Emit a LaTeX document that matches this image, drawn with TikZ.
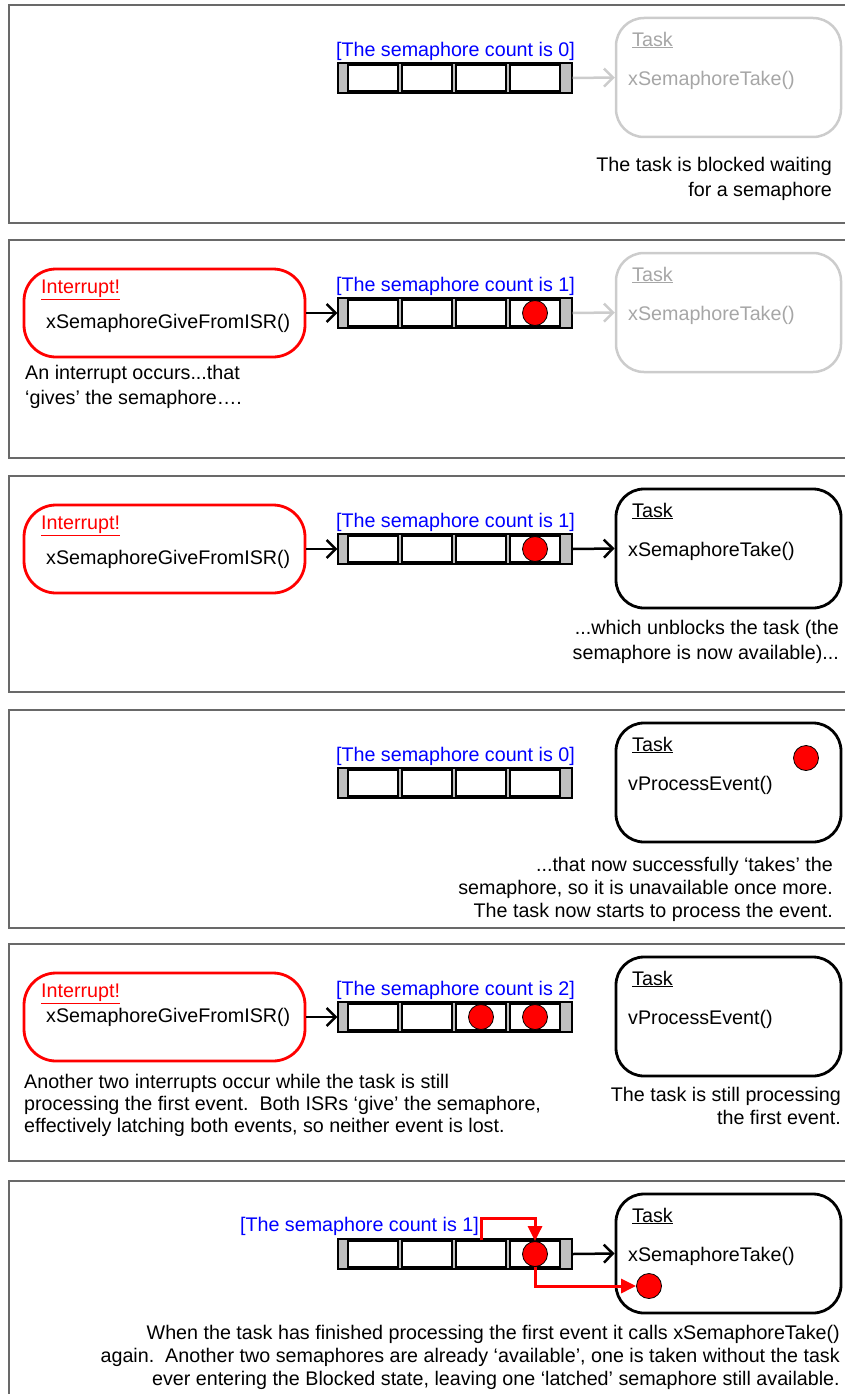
\documentclass[tikz,border=0pt]{standalone}
\usepackage{fontspec}
\setmainfont{Liberation Sans}
\usetikzlibrary{arrows.meta}
\definecolor{framegray}{RGB}{105,105,105}
\definecolor{pureblue}{RGB}{0,0,255}
\definecolor{purered}{RGB}{255,0,0}
\begin{document}
\begin{tikzpicture}[
	x=1pt, y=-1pt,
	panel line/.style={draw=framegray, line width=1.6pt},
	queue bar/.style={draw=black, fill=gray!50, line width=1.2pt, minimum width=234pt, minimum height=30pt, inner sep=0pt},
	queue cell/.style={draw=black, fill=white, line width=1.1pt, minimum width=50pt, minimum height=26pt, inner sep=0pt},
	token/.style={circle, draw=black, fill=purered, line width=0.8pt, minimum size=25pt, inner sep=0pt},
	task box/.style={draw=black, rounded corners=28pt, line width=2.8pt, minimum width=225pt, minimum height=119pt},
	blocked/.style={draw=gray!40, line width=2.5pt},
	isr box/.style={draw=purered, rounded corners=32pt, line width=2.8pt, minimum width=281pt, minimum height=88pt},
	plain text/.style={inner sep=0pt, font=\fontsize{19.7}{25}\selectfont},
	count label/.style={plain text, text=pureblue, anchor=east},
	isr title/.style={plain text, text=purered, anchor=west},
	call text/.style={plain text, anchor=west},
	note/.style={plain text, align=right, anchor=north east},
	tight note/.style={note, font=\fontsize{19.7}{23}\selectfont},
	flow/.style={-{Straight Barb[length=9pt,width=18pt]}, line width=2.5pt},
	faded flow/.style={flow, draw=gray!40},
	take/.style={-{Triangle[length=15pt,width=14pt]}, draw=purered, line width=3pt}
	]
	\newcommand{\drawqueue}[1]{
		\node[queue bar] (#1) at (455,73) {};
		\foreach \i in {1,...,4}
			\node[queue cell] (#1-\i) at ({319+54*\i},73) {};
	}
	\newcommand{\drawtask}[4]{
		\node[task box, #2] (#1) at (728.5,72.5) {};
		\node[call text, text=#3] (#1-title) at (632,35) {\underline{Task}};
		\node[call text, text=#3] (#1-call) at (628,75) {#4};
	}
	\newcommand{\drawisr}[2]{
		\node[isr box] (#1) at (164.5,73) {};
		\node[isr title] (#1-title) at (41,50) {\underline{Interrupt!}};
		\node[call text] (#1-call) at (46,#2) {xSemaphoreGiveFromISR()};
	}
	\useasboundingbox (0,0) rectangle (845,1394);
	\clip (0,0) rectangle (845,1394);
	% blocked
	\begin{scope}[yshift=-5pt]
		\draw[panel line] (900,0) -- (9,0) -- (9,218) -- (900,218);
		\node[count label] (n1) at (575,46) {[The semaphore count is 0]};
		\drawqueue{q1}
		\drawtask{t1}{blocked}{gray!70}{xSemaphoreTake()}
		\draw[faded flow] (q1.east) -- (t1.west);
		\node[note] (d1) at (832,152) {The task is blocked waiting\\for a semaphore};
	\end{scope}
	% interrupt gives
	\begin{scope}[yshift=-240pt]
		\draw[panel line] (900,0) -- (9,0) -- (9,218) -- (900,218);
		\drawisr{i2}{83}
		\node[count label] (n2) at (575,46) {[The semaphore count is 1]};
		\drawqueue{q2}
		\node[token] (k2) at (q2-4) {};
		\drawtask{t2}{blocked}{gray!70}{xSemaphoreTake()}
		\draw[flow] (i2.east) -- (q2.west);
		\draw[faded flow] (q2.east) -- (t2.west);
		\node[note, anchor=north west, align=left] (d2) at (25,125) {An interrupt occurs...that\\‘gives’ the semaphore….};
	\end{scope}
	% task unblocked
	\begin{scope}[yshift=-476pt]
		\draw[panel line] (900,0) -- (9,0) -- (9,216) -- (900,216);
		\drawisr{i3}{83}
		\node[count label] (n3) at (575,46) {[The semaphore count is 1]};
		\drawqueue{q3}
		\node[token] (k3) at (q3-4) {};
		\drawtask{t3}{}{black}{xSemaphoreTake()}
		\draw[flow] (i3.east) -- (q3.west);
		\draw[flow] (q3.east) -- (t3.west);
		\node[note] (d3) at (839,144) {...which unblocks the task (the\\semaphore is now available)...};
	\end{scope}
	% task takes
	\begin{scope}[yshift=-710pt]
		\draw[panel line] (900,0) -- (9,0) -- (9,218) -- (900,218);
		\node[count label] (n4) at (575,46) {[The semaphore count is 0]};
		\drawqueue{q4}
		\drawtask{t4}{}{black}{vProcessEvent()}
		\node[token] (k4) at (806,48) {};
		\node[tight note] (d4) at (833,147) {...that now successfully ‘takes’ the\\semaphore, so it is unavailable once more.\\The task now starts to process the event.};
	\end{scope}
	% two more interrupts
	\begin{scope}[yshift=-944pt]
		\draw[panel line] (900,0) -- (9,0) -- (9,217) -- (900,217);
		\drawisr{i5}{73}
		\node[count label] (n5) at (575,46) {[The semaphore count is 2]};
		\drawqueue{q5}
		\node[token] (k5a) at (q5-3) {};
		\node[token] (k5b) at (q5-4) {};
		\drawtask{t5}{}{black}{vProcessEvent()}
		\draw[flow] (i5.east) -- (q5.west);
		\node[tight note, anchor=north west, align=left, font=\fontsize{19.7}{22}\selectfont] (d5) at (24,130) {Another two interrupts occur while the task is still\\processing the first event.\ \ Both ISRs ‘give’ the semaphore,\\effectively latching both events, so neither event is lost.};
		\node[tight note] (e5) at (841,143) {The task is still processing\\the first event.};
	\end{scope}
	% take again
	\begin{scope}[yshift=-1181pt]
		\draw[panel line] (900,0) -- (9,0) -- (9,260);
		\node[count label] (n6) at (479,45) {[The semaphore count is 1]};
		\drawqueue{q6}
		\node[token] (k6) at (q6-4) {};
		\drawtask{t6}{}{black}{xSemaphoreTake()}
		\node[token] (g6) at (649,105) {};
		\draw[flow] (q6.east) -- (t6.west);
		\coordinate (b6) at (535,37);
		\draw[take] (q6-3.north) |- (b6) -- (k6.north);
		\draw[take] (k6.south) |- (g6.west);
		\node[tight note] (d6) at (840,144) {When the task has finished processing the first event it calls xSemaphoreTake()\\again.\ \ Another two semaphores are already ‘available’, one is taken without the task\\ever entering the Blocked state, leaving one ‘latched’ semaphore still available.};
	\end{scope}
\end{tikzpicture}
\end{document}
